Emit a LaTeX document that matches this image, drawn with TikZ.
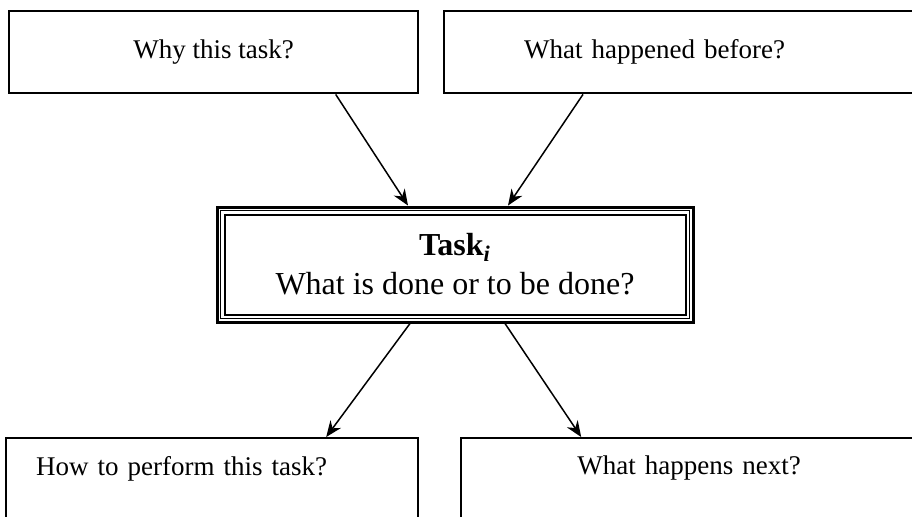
\documentclass[tikz,border=0pt]{standalone}
\usepackage{fontspec}
\setmainfont{Liberation Serif}
\usetikzlibrary{positioning, arrows.meta, calc}

\tikzset{
  qbox/.style={draw, rectangle, line width=1.2pt, inner sep=0pt,
    font=\fontsize{13.5}{18}\selectfont},
  flow/.style={-{Stealth[length=8pt,width=6.5pt]}, line width=0.75pt},
}

\begin{document}
\begin{tikzpicture}[x=0.5pt, y=-0.5pt]

  \useasboundingbox (0,0) rectangle (912,516);
  \clip (0,0) rectangle (912,516);

  % Questions above the task
  \node[qbox, anchor=north west, minimum width=204.5pt, minimum height=41pt] (why) at (8,10) {Why this task?};
  \node[qbox, anchor=north west, text width=200pt, align=left, inner xsep=40pt, minimum height=41pt] (before) at (443,10)
    {What happened before?};

  % The task itself, triple frame
  \node[qbox, line width=1.5pt, minimum width=238pt, minimum height=57.5pt, align=center,
    font=\fontsize{16}{19.5}\selectfont] (task) at (455,264.5)
    {\textbf{Task\textsubscript{\itshape i}}\\What is done or to be done?};
  \draw[line width=0.6pt] ([shift={(5,5)}]task.north west) rectangle ([shift={(-5,-5)}]task.south east);
  \draw[line width=1pt] ([shift={(9,9)}]task.north west) rectangle ([shift={(-9,-9)}]task.south east);

  % Questions below the task
  \node[qbox, anchor=north west, text width=176pt, align=left, inner xsep=15pt, inner ysep=9pt, text depth=40pt] (how) at (5,437)
    {How to perform this task?};
  \node[qbox, anchor=north west, text width=220pt, align=center, inner xsep=4pt, inner ysep=9pt, text depth=40pt] (next) at (460,437)
    {What happens next?};

  % Arrows
  \draw[flow] ([xshift=61pt]why.south) -- ([xshift=-23.5pt]task.north);
  \draw[flow] ([xshift=70pt]before.south west) -- ([xshift=26.5pt]task.north);
  \draw[flow] ([xshift=-22.5pt]task.south) -- ([xshift=57pt]how.north);
  \draw[flow] ([xshift=25pt]task.south) -- ([xshift=-54pt]next.north);

\end{tikzpicture}
\end{document}
